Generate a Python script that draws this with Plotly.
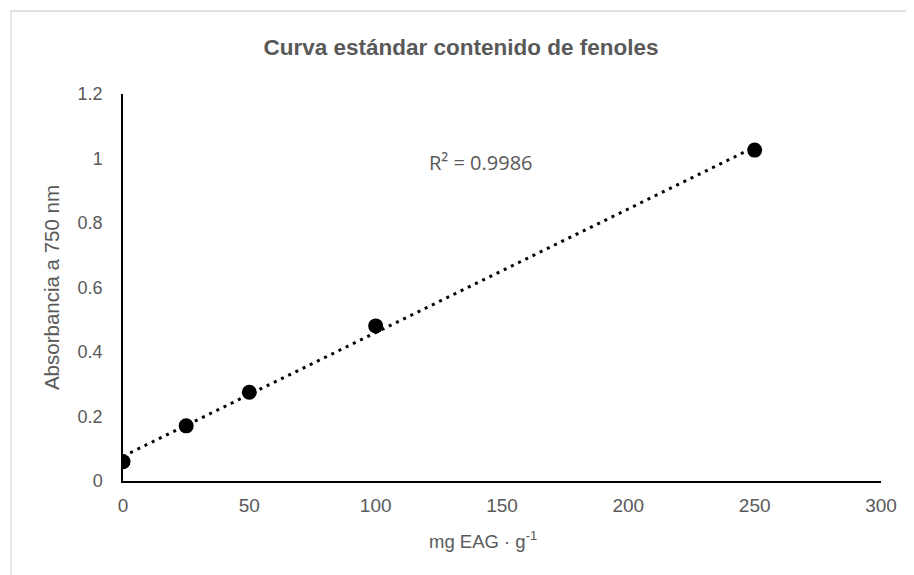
import numpy as np
import plotly.graph_objects as go

concentracion = [0, 25, 50, 100, 250]
absorbancia = [0.060, 0.171, 0.275, 0.481, 1.026]
x_ticks = [0, 50, 100, 150, 200, 250, 300]
y_ticks = [0, 0.2, 0.4, 0.6, 0.8, 1, 1.2]
y_tick_labels = ["0", "0.2", "0.4", "0.6", "0.8", "1", "1.2"]

slope, intercept = np.polyfit(concentracion, absorbancia, 1)
trend_x = [min(concentracion), max(concentracion)]
trend_y = [slope * v + intercept for v in trend_x]

gray = "#595959"
# page is offset by 8px body margin; figure sized to fit the window
W, H = 906, 567
L, R, T, B = 115, 33, 86, 94
pw, ph = W - L - R, H - T - B


def px_x(p):
    return (p - 8 - L) / pw


def px_y(p):
    return (H - B - (p - 8)) / ph


fig = go.Figure()
fig.add_trace(go.Scatter(
    x=trend_x, y=trend_y, mode="lines",
    line=dict(color="black", width=3, dash="3px,5px"),
    hoverinfo="skip", showlegend=False))
fig.add_trace(go.Scatter(
    x=concentracion, y=absorbancia, mode="markers",
    marker=dict(color="black", size=15), showlegend=False))

fig.add_annotation(x=px_x(427), y=px_y(162), xref="paper", yref="paper",
                   text="R² = 0.9986", showarrow=False, xanchor="left", yanchor="middle",
                   font=dict(family="Open Sans, Liberation Sans", size=20, color=gray))

fig.add_annotation(x=px_x(483), y=px_y(540), xref="paper", yref="paper",
                   text="mg EAG · g<sup>-1</sup>", showarrow=False, xanchor="center",
                   yanchor="middle", font=dict(size=18.5, color=gray))

fig.add_shape(type="rect", xref="paper", yref="paper",
              x0=px_x(11), x1=px_x(930),
              y0=px_y(590), y1=px_y(11),
              line=dict(color="#d9d9d9", width=1.3), fillcolor="rgba(0,0,0,0)", layer="below")

fig.update_layout(
    width=W, height=H,
    margin=dict(l=L, r=R, t=T, b=B),
    paper_bgcolor="white", plot_bgcolor="white",
    font=dict(family="Liberation Sans, Arial", color=gray, size=19),
    title=dict(text="<b>Curva estándar contenido de fenoles</b>", x=0.5, xref="container",
               xanchor="center", y=1 - 39 / H, yanchor="middle",
               font=dict(size=22.5, color=gray, family="Liberation Sans, Arial")),
    xaxis=dict(range=[0, 300], tickvals=x_ticks, showgrid=False, zeroline=False,
               showline=True, linecolor="black", linewidth=1.5, ticks="",
               ticklabelstandoff=6, tickfont=dict(size=19, color=gray)),
    yaxis=dict(range=[0, 1.2], tickvals=y_ticks, ticktext=y_tick_labels, showgrid=False,
               zeroline=False, showline=True, linecolor="black", linewidth=1.5, ticks="",
               ticklabelstandoff=15, tickfont=dict(size=18, color=gray),
               title=dict(text="Absorbancia a 750 nm", standoff=12,
                          font=dict(size=20.5, color=gray))),
)

fig.write_html("out.html")
